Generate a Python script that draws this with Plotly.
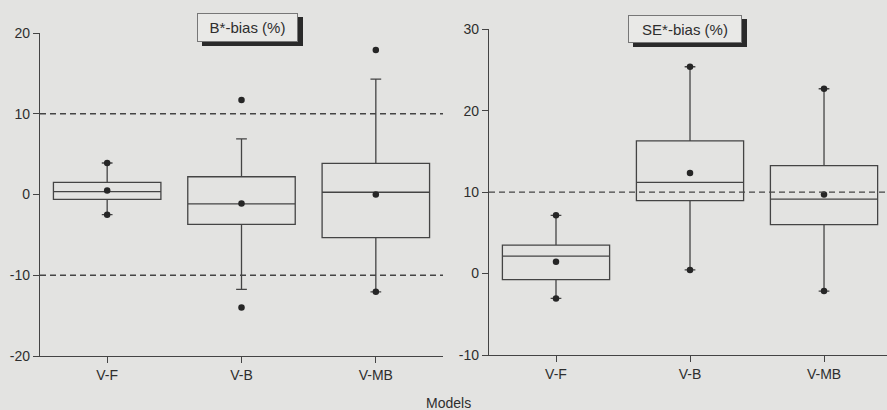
import plotly.graph_objects as go

W, H = 887, 410

models = ["V-F", "V-B", "V-MB"]

# B*-bias (%) summary statistics per model
b_q1 = [-0.6, -3.7, -5.35]
b_median = [0.35, -1.15, 0.28]
b_q3 = [1.5, 2.2, 3.85]
b_low = [-2.5, -11.75, -12.05]
b_high = [3.9, 6.9, 14.3]
b_mean = [0.5, -1.1, 0.0]
b_min = [-2.5, -14.0, -12.05]
b_max = [3.9, 11.7, 17.9]
b_ticks = [-20, -10, 0, 10, 20]
b_ticklabels = ["-20", "-10", "0", "10", "20"]

# SE*-bias (%) summary statistics per model
se_q1 = [-0.75, 8.95, 6.0]
se_median = [2.15, 11.2, 9.15]
se_q3 = [3.5, 16.3, 13.25]
se_low = [-3.05, 0.45, -2.15]
se_high = [7.15, 25.4, 22.7]
se_mean = [1.45, 12.35, 9.7]
se_min = [-3.05, 0.45, -2.15]
se_max = [7.15, 25.4, 22.7]
se_ticks = [-10, 0, 10, 20, 30]
se_ticklabels = ["-10", "0", "10", "20", "30"]

b_refs = [10, -10]
se_refs = [10]

LINE = "#444444"
TEXT = "#2e2e2e"
BG = "#e3e3e1"
FONT = "Liberation Sans, Arial, sans-serif"

pos = list(range(len(models)))


def px_x(p):
    return p / W


def px_y(p):
    return 1 - p / H


fig = go.Figure()


def add_panel(xa, ya, q1, med, q3, lo, hi, mean, mn, mx):
    fig.add_trace(go.Box(
        x=pos, q1=q1, median=med, q3=q3, lowerfence=lo, upperfence=hi,
        width=0.8, whiskerwidth=0.1, boxpoints=False,
        fillcolor="rgba(0,0,0,0)", line=dict(color=LINE, width=1.3),
        xaxis=xa, yaxis=ya, showlegend=False, hoverinfo="skip",
    ))
    fig.add_trace(go.Scatter(
        x=pos + pos + pos, y=list(mean) + list(mn) + list(mx), mode="markers",
        marker=dict(color="#262626", size=6.5), xaxis=xa, yaxis=ya,
        showlegend=False, hoverinfo="skip",
    ))


add_panel("x", "y", b_q1, b_median, b_q3, b_low, b_high, b_mean, b_min, b_max)
add_panel("x2", "y2", se_q1, se_median, se_q3, se_low, se_high, se_mean, se_min, se_max)

dash = dict(color=LINE, width=1.4, dash="6px,4px")
for v in b_refs:
    fig.add_shape(type="line", xref="x", yref="y", x0=-0.5, x1=2.5, y0=v, y1=v, line=dash)
for v in se_refs:
    fig.add_shape(type="line", xref="x2", yref="y2", x0=-0.5, x1=2.47, y0=v, y1=v, line=dash)

axis_common = dict(
    showgrid=False, zeroline=False, showline=True, linecolor=LINE, linewidth=1.4,
    ticks="outside", ticklen=6, tickwidth=1.2, tickcolor=LINE,
    tickfont=dict(family=FONT, size=14, color=TEXT), automargin=False,
)

fig.update_layout(
    width=W, height=H,
    margin=dict(l=0, r=0, t=0, b=0),
    paper_bgcolor=BG, plot_bgcolor=BG,
    xaxis=dict(domain=[px_x(40), px_x(443)], range=[-0.5, 2.5],
               tickvals=pos, ticktext=models, anchor="y", **axis_common),
    yaxis=dict(domain=[px_y(356), px_y(33)], range=[-20, 20],
               tickvals=b_ticks, ticktext=b_ticklabels, anchor="x", **axis_common),
    xaxis2=dict(domain=[px_x(489), 1.0], range=[-0.5, 2.47],
                tickvals=pos, ticktext=models, anchor="y2", **axis_common),
    yaxis2=dict(domain=[px_y(355), px_y(29.3)], range=[-10, 30],
                tickvals=se_ticks, ticktext=se_ticklabels, anchor="x2", **axis_common),
)

# Boxed panel titles with drop shadow
titles = [
    ("B*-bias (%)", 197, 298, 13, 42),
    ("SE*-bias (%)", 628, 742, 15, 43),
]
for text, x0, x1, y0, y1 in titles:
    fig.add_shape(type="rect", xref="paper", yref="paper",
                  x0=px_x(x0 + 5), x1=px_x(x1 + 5), y0=px_y(y1 + 4), y1=px_y(y0 + 4),
                  fillcolor="#2a2a2a", line=dict(width=0), layer="above")
    fig.add_annotation(
        text=text, xref="paper", yref="paper",
        x=px_x((x0 + x1) / 2), y=px_y((y0 + y1) / 2),
        xanchor="center", yanchor="middle", showarrow=False,
        width=x1 - x0 - 4, height=y1 - y0 - 4, borderpad=1,
        bgcolor="#e9e9e7", bordercolor="#777777", borderwidth=1,
        font=dict(family=FONT, size=15, color=TEXT),
    )

fig.add_annotation(
    text="Models", xref="paper", yref="paper", x=px_x(449), y=px_y(403),
    xanchor="center", yanchor="middle", showarrow=False,
    font=dict(family=FONT, size=14, color=TEXT),
)

fig.write_html("out.html")
